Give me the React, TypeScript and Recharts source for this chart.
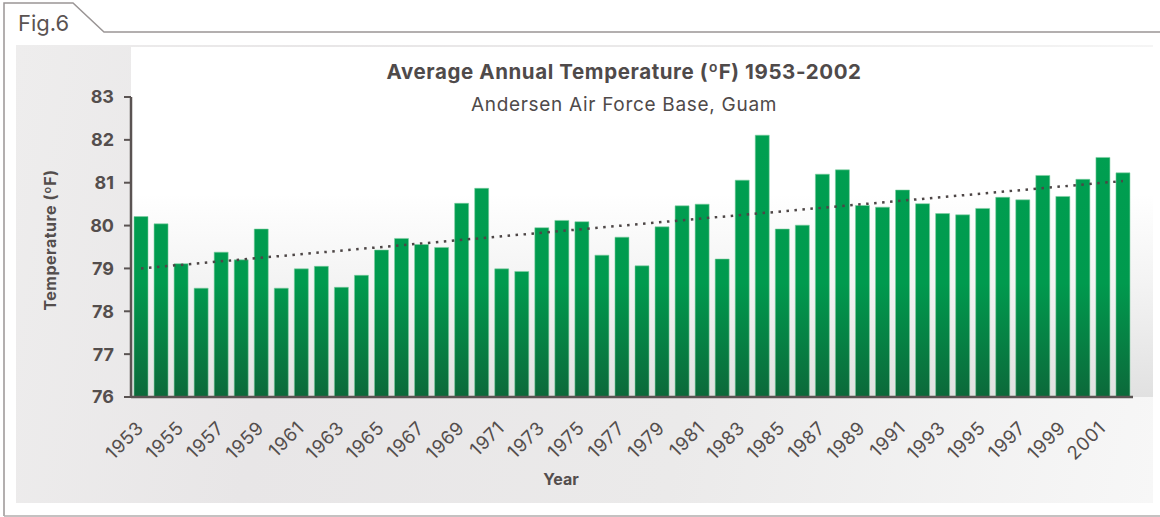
import React from "react";
import { Bar, BarChart, ReferenceLine, XAxis, YAxis } from "recharts";

const years = [
  "1953", "1954", "1955", "1956", "1957", "1958", "1959", "1960", "1961", "1962",
  "1963", "1964", "1965", "1966", "1967", "1968", "1969", "1970", "1971", "1972",
  "1973", "1974", "1975", "1976", "1977", "1978", "1979", "1980", "1981", "1982",
  "1983", "1984", "1985", "1986", "1987", "1988", "1989", "1990", "1991", "1992",
  "1993", "1994", "1995", "1996", "1997", "1998", "1999", "2000", "2001", "2002",
];

const temps = [
  80.21, 80.04, 79.11, 78.54, 79.38, 79.2, 79.92, 78.54, 78.99, 79.05,
  78.56, 78.84, 79.43, 79.7, 79.56, 79.49, 80.52, 80.87, 78.99, 78.93,
  79.95, 80.12, 80.09, 79.31, 79.73, 79.06, 79.97, 80.46, 80.5, 79.22,
  81.06, 82.11, 79.92, 80.01, 81.2, 81.3, 80.47, 80.43, 80.83, 80.51,
  80.28, 80.25, 80.4, 80.66, 80.6, 81.17, 80.68, 81.08, 81.59, 81.23,
];

// linear trend at both ends
const trendStart = 79.0;
const trendEnd = 81.04;

const yTicks = [76, 77, 78, 79, 80, 81, 82, 83];
const edgeTicks = years.map((_, i) => i).concat(years.length);

const data = years.map((year, i) => ({ year, temp: temps[i] }));

const INK = "#544e4d";
const FONT = "Inter, Roboto, sans-serif";

function YearTick(props: any) {
  const { x, y, payload } = props;
  const ax = x + 4;
  const ay = y + 31;
  return (
    <text
      x={ax}
      y={ay}
      transform={`rotate(-45 ${ax} ${ay})`}
      textAnchor="end"
      fontSize={18.5}
      letterSpacing={0.8}
      fill={INK}
      fontFamily={FONT}
    >
      {payload.value}
    </text>
  );
}

export default function App() {
  return (
    <div
      style={{
        position: "absolute",
        left: 0,
        top: 0,
        width: 1160,
        height: 517,
        background: "#ffffff",
        fontFamily: FONT,
        overflow: "hidden",
      }}
    >
      <svg width={1160} height={517} style={{ position: "absolute", left: 0, top: 0 }}>
        <path d="M4,516 L4,3 L73,3 L104,32 L1160,32" fill="none" stroke="#9a9595" strokeWidth={1.5} />
        <path d="M4,516 L1160,516" fill="none" stroke="#b0acac" strokeWidth={1.5} />
      </svg>
      <div
        style={{
          position: "absolute",
          left: 16,
          top: 45,
          width: 1137,
          height: 458,
          background: "linear-gradient(100deg, #eeeded 0%, #e8e6e7 25%, #ebeaea 60%, #f7f7f7 100%)",
        }}
      />
      <div
        style={{
          position: "absolute",
          left: 131,
          top: 47,
          width: 1022,
          height: 350,
          background: "linear-gradient(to bottom, #ffffff 0%, #ffffff 42%, #f3f3f3 68%, #e1e1e1 100%)",
        }}
      />
      <BarChart
        width={1160}
        height={517}
        data={data}
        margin={{ top: 97, right: 27, bottom: 60, left: 71 }}
        barCategoryGap="15%"
        style={{ position: "absolute", left: 0, top: 0 }}
      >
        <defs>
          <linearGradient id="barGrad" gradientUnits="userSpaceOnUse" x1="0" y1="97" x2="0" y2="397">
            <stop offset="0%" stopColor="#00a152" />
            <stop offset="62%" stopColor="#009a4e" />
            <stop offset="100%" stopColor="#0c693a" />
          </linearGradient>
        </defs>
        <XAxis
          xAxisId="axisA"
          type="number"
          domain={[0, years.length]}
          allowDataOverflow
          ticks={edgeTicks}
          tick={false}
          tickSize={7}
          height={1}
          axisLine={{ stroke: "#5a5352", strokeWidth: 2.5 }}
          tickLine={{ stroke: "#5a5352", strokeWidth: 2 }}
        />
        <XAxis
          xAxisId="axisB"
          dataKey="year"
          interval={1}
          height={59}
          tickSize={0}
          tickMargin={0}
          axisLine={false}
          tickLine={false}
          tick={<YearTick />}
        />
        <YAxis
          domain={[76, 83]}
          ticks={yTicks}
          width={60}
          tickSize={7}
          tickMargin={10}
          axisLine={{ stroke: "#5a5352", strokeWidth: 2.5 }}
          tickLine={{ stroke: "#5a5352", strokeWidth: 2 }}
          tick={{ fill: INK, fontSize: 18, fontWeight: 700, fontFamily: FONT }}
        />
        <Bar
          xAxisId="axisB"
          dataKey="temp"
          fill="url(#barGrad)"
          stroke="#7fd0a2"
          strokeOpacity={0.55}
          strokeWidth={1}
          isAnimationActive={false}
        />
        <ReferenceLine
          xAxisId="axisB"
          segment={[
            { x: years[0], y: trendStart },
            { x: years[years.length - 1], y: trendEnd },
          ]}
          stroke="#4d4646"
          strokeWidth={2.5}
          strokeDasharray="2.5 5.5"
        />
      </BarChart>
      <svg width={1160} height={517} style={{ position: "absolute", left: 0, top: 0, pointerEvents: "none" }}>
        <text x={18} y={31} fontSize={22} fill="#5a5352" fontFamily={FONT}>
          Fig.6
        </text>
        <text
          x={624}
          y={79}
          textAnchor="middle"
          fontSize={20.5}
          letterSpacing={0.6}
          fontWeight={700}
          fill="#4f4a4a"
          fontFamily={FONT}
        >
          Average Annual Temperature (ºF) 1953-2002
        </text>
        <text x={624} y={111} textAnchor="middle" fontSize={19} letterSpacing={0.7} fill="#4f4a4a" fontFamily={FONT}>
          Andersen Air Force Base, Guam
        </text>
        <text
          x={56}
          y={240}
          transform="rotate(-90 56 240)"
          textAnchor="middle"
          fontSize={16}
          letterSpacing={0.5}
          fontWeight={700}
          fill={INK}
          fontFamily={FONT}
        >
          Temperature (ºF)
        </text>
        <text x={561} y={485} textAnchor="middle" fontSize={16} fontWeight={700} fill={INK} fontFamily={FONT}>
          Year
        </text>
      </svg>
    </div>
  );
}
